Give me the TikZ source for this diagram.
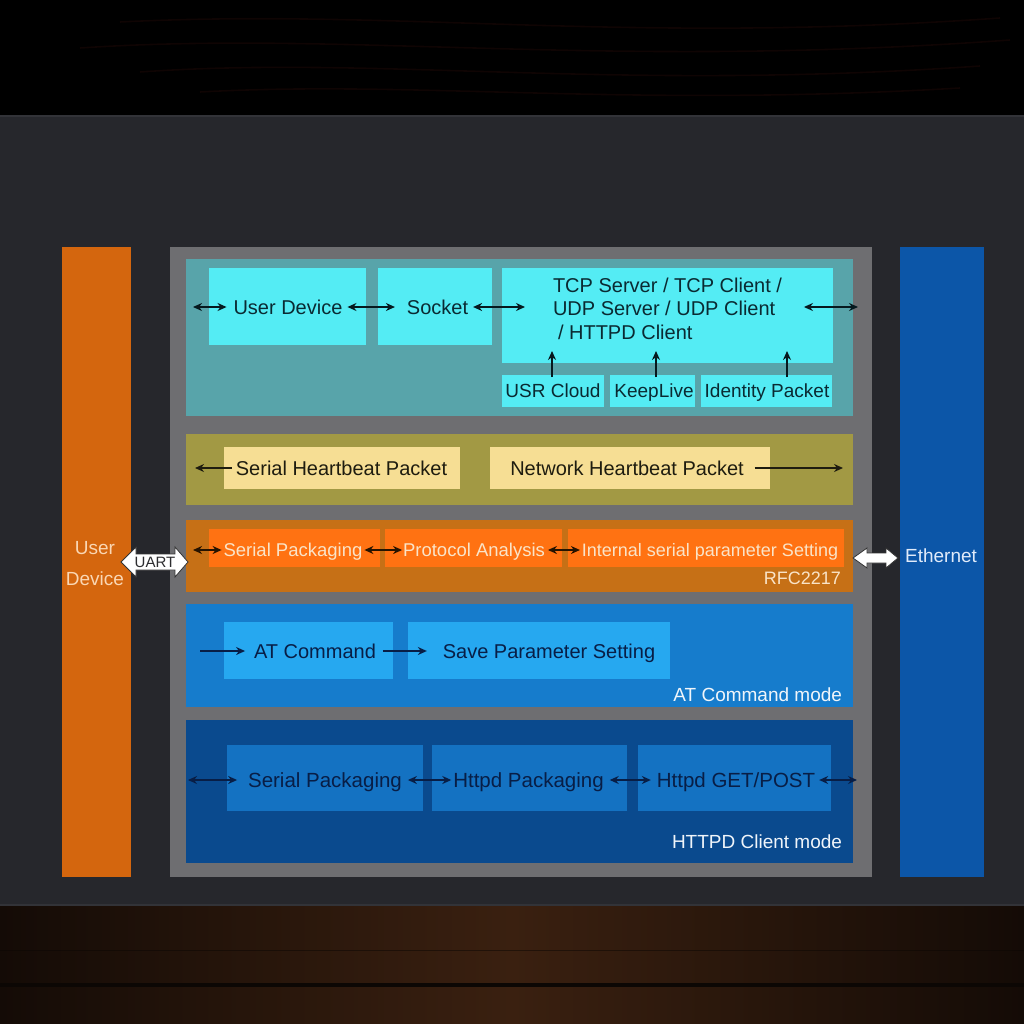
\documentclass[tikz,border=0pt]{standalone}
\usepackage{fontspec}
\setmainfont{Liberation Sans}
\usetikzlibrary{arrows.meta}
\definecolor{panel}{RGB}{38,39,44}
\definecolor{paneledge}{RGB}{50,51,56}
\definecolor{wdark}{RGB}{20,11,6}
\definecolor{wmid}{RGB}{58,32,16}
\definecolor{wline}{RGB}{12,7,4}
\definecolor{topwood}{RGB}{15,4,3}
\definecolor{uorange}{RGB}{212,102,14}
\definecolor{coregray}{RGB}{110,110,113}
\definecolor{eblue}{RGB}{12,86,168}
\definecolor{teal}{RGB}{88,164,170}
\definecolor{cyanbox}{RGB}{84,236,244}
\definecolor{olive}{RGB}{162,153,68}
\definecolor{lyellow}{RGB}{246,222,148}
\definecolor{dorange}{RGB}{198,112,22}
\definecolor{borange}{RGB}{255,114,18}
\definecolor{atblue}{RGB}{22,124,204}
\definecolor{atbox}{RGB}{38,168,240}
\definecolor{hblue}{RGB}{10,74,142}
\definecolor{hbox}{RGB}{20,114,194}
\definecolor{tteal}{RGB}{10,42,50}
\definecolor{tolive}{RGB}{30,28,15}
\definecolor{tcream}{RGB}{250,228,200}
\definecolor{tnavy}{RGB}{8,30,70}
\definecolor{tmode}{RGB}{240,245,250}
\definecolor{tpeach}{RGB}{250,215,180}
\definecolor{teth}{RGB}{225,235,250}
\definecolor{uarttxt}{RGB}{45,45,48}
\newcommand\boxat[6]{\node[blk, fill=#2, minimum width={#5-#3}, minimum height={#6-#4}] (#1) at (#3,#4) {};}
\begin{document}
\begin{tikzpicture}[x=1pt,y=-1pt,
  blk/.style={inner sep=0pt, outer sep=0pt, anchor=north west, draw=none},
  txt/.style={inner sep=0pt, outer sep=0pt, text depth=0pt},
  f20/.style={font=\fontsize{20}{24}\selectfont, text height=14.4pt},
  f19/.style={font=\fontsize{19}{23}\selectfont, text height=13.7pt},
  f18/.style={font=\fontsize{18.5}{22}\selectfont, text height=13.3pt},
  f18b/.style={font=\fontsize{18}{22}\selectfont, text height=13pt},
  f205/.style={font=\fontsize{20.5}{24}\selectfont, text height=14.8pt},
  f15/.style={font=\fontsize{15}{18}\selectfont, text height=10.8pt},
  dar/.style={{Stealth[length=9pt,width=8pt]}-{Stealth[length=9pt,width=8pt]}, line width=1.4pt},
  sar/.style={-{Stealth[length=9pt,width=8pt]}, line width=1.4pt},
  fat/.style={fill=white, draw=black!80, line width=0.8pt, line join=miter}
]
\useasboundingbox (0,0) rectangle (1024,1024);
% ---------- background ----------
\fill[black] (0,0) rectangle (1024,116);
\begin{scope}[topwood, line width=1.6pt]
  \draw (120,22) .. controls (400,8) and (620,45) .. (1000,18);
  \draw (80,48) .. controls (350,30) and (600,70) .. (1010,40);
  \draw (140,72) .. controls (380,55) and (610,92) .. (980,66);
  \draw (200,92) .. controls (420,80) and (620,108) .. (960,88);
\end{scope}
\shade[left color=wdark, right color=wdark, middle color=wmid] (0,900) rectangle (1024,1024);
\fill[wline] (0,983) rectangle (1024,987);
\draw[wline, line width=0.8pt, opacity=0.5] (0,950) -- (1024,950);
\fill[panel] (0,116) rectangle (1024,906);
\draw[paneledge, line width=1.5pt] (0,116) -- (1024,116);
\draw[paneledge, line width=1.5pt] (0,905) -- (1024,905);
% ---------- main blocks ----------
\boxat{ubar}{uorange}{62}{247}{131}{877}
\boxat{core}{coregray}{170}{247}{872}{877}
\boxat{ebar}{eblue}{900}{247}{984}{877}
\node[txt, f19, tpeach] (ud1) at (95,548) {User};
\node[txt, f19, tpeach] (ud2) at (95,579) {Device};
\node[txt, f19, teth] (eth) at (941,556) {Ethernet};
% ---------- row 1 ----------
\boxat{r1}{teal}{186}{259}{853}{416}
\boxat{b11}{cyanbox}{209}{268}{366}{345}
\boxat{b12}{cyanbox}{378}{268}{492}{345}
\boxat{b13}{cyanbox}{502}{268}{833}{363}
\boxat{b14}{cyanbox}{502}{375}{604}{407}
\boxat{b15}{cyanbox}{610}{375}{695}{407}
\boxat{b16}{cyanbox}{701}{375}{832}{407}
\begin{scope}[tteal]
\node[txt, f20] (t11) at (288,307) {User Device};
\node[txt, f20] (t12) at (437.5,307) {Socket};
\node[txt, f20, anchor=west] (t13a) at (553,285) {TCP Server / TCP Client /};
\node[txt, f20, anchor=west] (t13b) at (553,308) {UDP Server / UDP Client};
\node[txt, f20, anchor=west] (t13c) at (553,332) {\hspace{5pt}/ HTTPD Client};
\node[txt, f19] (t14) at (553,391) {USR Cloud};
\node[txt, f19] (t15) at (654,391) {KeepLive};
\node[txt, f19] (t16) at (767,391) {Identity Packet};
\end{scope}
\coordinate (p11) at (193,307);
\coordinate (p13) at (858,307);
\coordinate (u1) at (552,0);
\coordinate (u2) at (656,0);
\coordinate (u3) at (787,0);
\begin{scope}[tteal!60!black]
\draw[dar, shorten >=7pt] (p11) -- (t11.west);
\draw[dar, shorten <=5pt, shorten >=12pt] (t11.east) -- (t12.west);
\draw[dar, shorten <=5pt, shorten >=28pt] (t12.east) -- (t12.east -| t13b.west);
\draw[dar, shorten <=22pt] (t13a.east |- p13) -- (p13);
\draw[sar, shorten <=-2pt] (b14.north -| u1) -- ++(0,-24);
\draw[sar, shorten <=-2pt] (b15.north -| u2) -- ++(0,-24);
\draw[sar, shorten <=-2pt] (b16.north -| u3) -- ++(0,-24);
\end{scope}
% ---------- row 2 ----------
\boxat{r2}{olive}{186}{434}{853}{505}
\boxat{b21}{lyellow}{224}{447}{460}{489}
\boxat{b22}{lyellow}{490}{447}{770}{489}
\begin{scope}[tolive]
\node[txt, f20] (t21) at (341.5,468) {Serial Heartbeat Packet};
\node[txt, f20] (t22) at (627,468) {Network Heartbeat Packet};
\coordinate (p21) at (195,468);
\coordinate (p22) at (843,468);
\draw[sar, shorten <=4pt] (t21.west) -- (p21);
\draw[sar, shorten <=11pt] (t22.east) -- (p22);
\end{scope}
% ---------- row 3 ----------
\boxat{r3}{dorange}{186}{520}{853}{592}
\boxat{b31}{borange}{209}{529}{380}{567}
\boxat{b32}{borange}{385}{529}{562}{567}
\boxat{b33}{borange}{568}{529}{844}{567}
\begin{scope}[tcream]
\node[txt, f18] (t31) at (293,550) {Serial Packaging};
\node[txt, f18] (t32) at (474,550) {Protocol Analysis};
\node[txt, f18b] (t33) at (710,550) {Internal serial parameter Setting};
\node[txt, f18b, anchor=east] (rfc) at (841,578) {RFC2217};
\end{scope}
\coordinate (p31) at (193,550);
\begin{scope}[black!85!orange]
\draw[dar, shorten >=2pt] (p31) -- (t31.west);
\draw[dar, shorten <=2pt, shorten >=1pt] (t31.east) -- (t32.west);
\draw[dar, shorten <=3pt, shorten >=2pt] (t32.east) -- (t33.west);
\end{scope}
% ---------- row 4 ----------
\boxat{r4}{atblue}{186}{604}{853}{707}
\boxat{b41}{atbox}{224}{622}{393}{679}
\boxat{b42}{atbox}{408}{622}{670}{679}
\begin{scope}[tnavy]
\node[txt, f20] (t41) at (315,651) {AT Command};
\node[txt, f20] (t42) at (549,651) {Save Parameter Setting};
\coordinate (p41) at (200,651);
\draw[sar, shorten >=9pt] (p41) -- (t41.west);
\draw[sar, shorten <=7pt, shorten >=16pt] (t41.east) -- (t42.west);
\end{scope}
\node[txt, f19, tmode, anchor=east] (atm) at (842,695) {AT Command mode};
% ---------- row 5 ----------
\boxat{r5}{hblue}{186}{720}{853}{863}
\boxat{b51}{hbox}{227}{745}{423}{811}
\boxat{b52}{hbox}{432}{745}{627}{811}
\boxat{b53}{hbox}{638}{745}{831}{811}
\begin{scope}[tnavy]
\node[txt, f205] (t51) at (325,780) {Serial Packaging};
\node[txt, f205] (t52) at (528.5,780) {Httpd Packaging};
\node[txt, f205] (t53) at (736,780) {Httpd GET/POST};
\coordinate (p51) at (188,780);
\coordinate (p52) at (857,780);
\draw[dar, shorten >=11pt] (p51) -- (t51.west);
\draw[dar, shorten <=6pt, shorten >=2pt] (t51.east) -- (t52.west);
\draw[dar, shorten <=6pt, shorten >=6pt] (t52.east) -- (t53.west);
\draw[dar, shorten <=4pt] (t53.east) -- (p52);
\end{scope}
\node[txt, f19, tmode, anchor=east] (hm) at (842,842) {HTTPD Client mode};
% ---------- fat arrows ----------
\draw[fat] (121,562) -- (136,547) -- (136,554) -- (175,554) -- (175,547) -- (188,562)
  -- (175,577) -- (175,570) -- (136,570) -- (136,577) -- cycle;
\node[txt, f15, uarttxt] (uart) at (155,562) {UART};
\draw[fat] (853,558) -- (867,548) -- (867,553) -- (886,553) -- (886,548) -- (898,558)
  -- (886,568) -- (886,563) -- (867,563) -- (867,568) -- cycle;
\end{tikzpicture}
\end{document}
